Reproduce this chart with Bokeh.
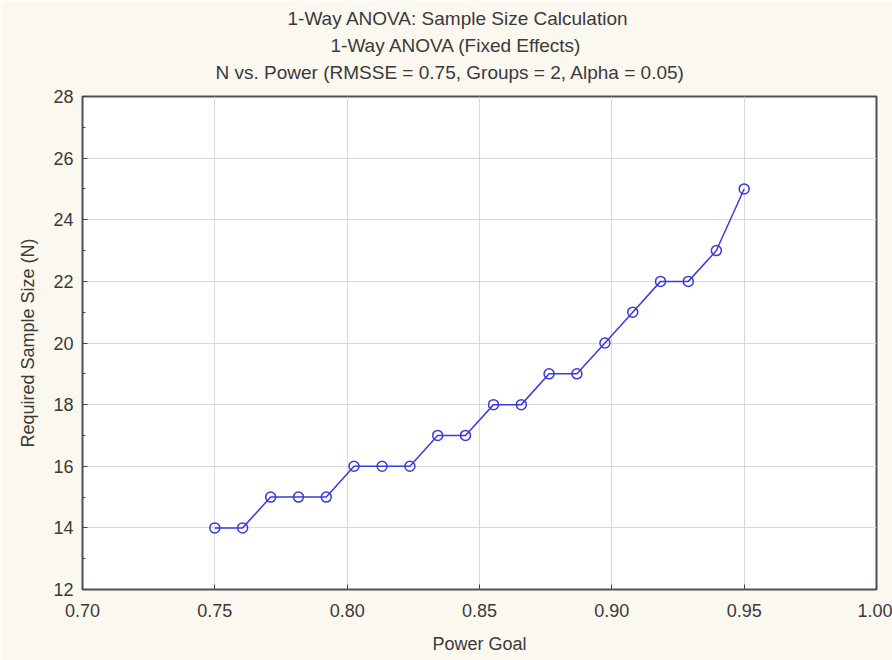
from bokeh.plotting import figure
from bokeh.models import (Title, FixedTicker, SingleIntervalTicker,
                          NumeralTickFormatter, Range1d, ColumnDataSource)
from bokeh.embed import file_html
from bokeh.resources import INLINE

# ---- data ----
power_goal = [0.7500, 0.7605, 0.7711, 0.7816, 0.7921, 0.8026, 0.8132, 0.8237,
              0.8342, 0.8447, 0.8553, 0.8658, 0.8763, 0.8868, 0.8974, 0.9079,
              0.9184, 0.9289, 0.9395, 0.9500]
required_n = [14, 14, 15, 15, 15, 16, 16, 16, 17, 17, 18, 18, 19, 19, 20, 21,
              22, 22, 23, 25]
x_ticks = [0.70, 0.75, 0.80, 0.85, 0.90, 0.95, 1.00]
title_lines = ["1-Way ANOVA: Sample Size Calculation",
               "1-Way ANOVA (Fixed Effects)",
               "N vs. Power (RMSSE = 0.75, Groups = 2, Alpha = 0.05)"]
x_label = "Power Goal"
y_label = "Required Sample Size (N)"

FONT = "Liberation Sans"
TXT = "#3a3a3a"
FS = "18px"
BLUE = "#3b3bd6"

p = figure(width=892, height=660, output_backend="svg", toolbar_location=None,
           x_range=Range1d(0.70, 1.00), y_range=Range1d(12, 28),
           min_border_left=82, min_border_right=16, min_border_top=96,
           min_border_bottom=71, title=None)

p.border_fill_color = "#fbf8f0"
p.background_fill_color = "white"
p.outline_line_color = "#505050"
p.outline_line_width = 2

# titles (last added is outermost); left-aligned with offsets so that the
# block is centred where the reference centres it
title_offsets = [205, 248, 133]
title_pads = [0, 0, 12]
for t, off, pad in reversed(list(zip(title_lines, title_offsets, title_pads))):
    p.add_layout(Title(text=t, align="left", text_font=FONT, text_font_size="19px",
                       text_font_style="normal", text_color=TXT, standoff=4,
                       offset=off, padding=(0, 0, 0, pad)), "above")

src = ColumnDataSource(dict(x=power_goal, y=required_n))
p.line("x", "y", source=src, line_color=BLUE, line_width=1.5)
p.scatter("x", "y", source=src, marker="circle", size=10, fill_color=None,
          line_color=BLUE, line_width=1.5)

xa = p.xaxis[0]
xa.ticker = FixedTicker(ticks=x_ticks)
xa.formatter = NumeralTickFormatter(format="0.00")
ya = p.yaxis[0]
ya.ticker = SingleIntervalTicker(interval=2, num_minor_ticks=2)

for ax in (xa, ya):
    ax.axis_line_color = None
    ax.major_tick_in = 5
    ax.major_tick_out = 0
    ax.minor_tick_in = 3
    ax.minor_tick_out = 0
    ax.major_tick_line_color = "#444444"
    ax.minor_tick_line_color = "#444444"
    ax.major_label_text_font = FONT
    ax.major_label_text_font_size = FS
    ax.major_label_text_color = TXT
    ax.axis_label_text_font = FONT
    ax.axis_label_text_font_size = FS
    ax.axis_label_text_font_style = "normal"
    ax.axis_label_text_color = TXT
xa.minor_tick_line_color = None
xa.axis_label = x_label
ya.axis_label = y_label
xa.major_label_standoff = 14
xa.axis_label_standoff = 14
ya.major_label_standoff = 9
ya.axis_label_standoff = 12

p.xgrid.ticker = FixedTicker(ticks=x_ticks)
p.xgrid.grid_line_color = "#d9d9d9"
p.ygrid.grid_line_color = "#d9d9d9"

open("out.html", "w").write(file_html(p, INLINE))
